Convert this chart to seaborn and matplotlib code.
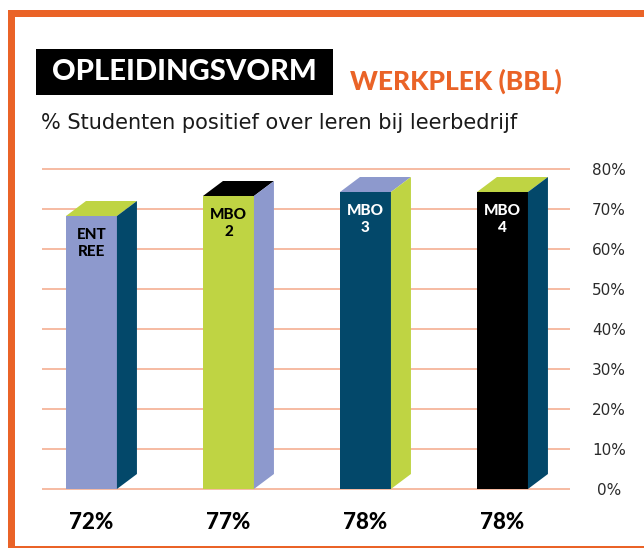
import matplotlib
matplotlib.use("Agg")
import matplotlib.pyplot as plt
from matplotlib.patches import Polygon, Rectangle
import pandas as pd
import seaborn as sns

# --- data -----------------------------------------------------------------
categories = ["ENT\nREE", "MBO\n2", "MBO\n3", "MBO\n4"]
values = [72, 77, 78, 78]
value_labels = ["72%", "77%", "78%", "78%"]
tick_values = [0, 10, 20, 30, 40, 50, 60, 70, 80]
tick_labels = ["0%", "10%", "20%", "30%", "40%", "50%", "60%", "70%", "80%"]

title_text = "OPLEIDINGSVORM"
subtitle_text = "WERKPLEK (BBL)"
caption_text = "% Studenten positief over leren bij leerbedrijf"

# --- colours --------------------------------------------------------------
LAVENDER = "#8D99CD"
TEAL = "#03486A"
LIME = "#BFD443"
BLACK = "#000000"
ORANGE = "#EA6327"
GRID = "#F6B59B"

front_colors = [LAVENDER, LIME, TEAL, BLACK]
top_colors = [LIME, BLACK, LAVENDER, LIME]
side_colors = [TEAL, LAVENDER, LIME, TEAL]
label_colors = ["black", "black", "white", "white"]

sns.set_theme(style="white")
plt.rcParams["font.family"] = ["Lato", "DejaVu Sans"]

W, H = 644, 548
fig = plt.figure(figsize=(W / 100, H / 100), dpi=100)
fig.patch.set_facecolor("white")


def fx(px):
    return px / W


def fy(py):
    return 1 - py / H


# plot area: 4 px per percentage point, 0% at y=489 and 80% at y=169
ax = fig.add_axes([fx(42), fy(493), fx(570) - fx(42), fy(165) - fy(493)])

df = pd.DataFrame({"groep": categories, "pct": values})
sns.barplot(data=df, x="groep", y="pct", hue="groep", palette=front_colors,
            width=0.372, saturation=1, legend=False, ax=ax, zorder=3)

DX = 0.146   # depth of the 3D box, horizontal (category units)
DY = 3.75    # depth of the 3D box, vertical (percentage points)

for i, p in enumerate(ax.patches[:len(values)]):
    x0, w, h = p.get_x(), p.get_width(), p.get_height()
    fh = h - DY
    p.set_height(fh)
    p.set_edgecolor("none")
    top = Polygon([(x0, fh), (x0 + w, fh), (x0 + w + DX, h), (x0 + DX, h)],
                  closed=True, facecolor=top_colors[i], edgecolor="none",
                  zorder=3, clip_on=False)
    side = Polygon([(x0 + w, 0), (x0 + w + DX, DY), (x0 + w + DX, h), (x0 + w, fh)],
                   closed=True, facecolor=side_colors[i], edgecolor="none",
                   zorder=3, clip_on=False)
    ax.add_patch(top)
    ax.add_patch(side)
    ax.text(x0 + w / 2, fh - 3.0, categories[i], ha="center", va="top",
            color=label_colors[i], fontsize=11, fontweight="black",
            linespacing=1.3, zorder=4)
    ax.text(x0 + w / 2, -8.3, value_labels[i], ha="center", va="center",
            color="black", fontsize=16, fontweight="black", clip_on=False)

ax.set_xlim(-0.361, 3.493)
ax.set_ylim(-1, 81)
ax.set_yticks(tick_values)
ax.set_yticklabels(tick_labels)
ax.yaxis.tick_right()
ax.tick_params(axis="y", length=0, pad=28, labelsize=11, labelcolor="#2b2b2b")
for lbl in ax.get_yticklabels():
    lbl.set_horizontalalignment("center")
    lbl.set_family("DejaVu Sans")
ax.tick_params(axis="x", length=0, labelbottom=False)
ax.set_xlabel("")
ax.set_ylabel("")
ax.grid(axis="y", color=GRID, linewidth=1.3)
ax.grid(axis="x", visible=False)
ax.set_axisbelow(True)
for s in ax.spines.values():
    s.set_visible(False)
ax.patch.set_alpha(0)

# --- frame ----------------------------------------------------------------
fig.patches.append(Rectangle((fx(8), fy(17)), 1 - fx(8), fy(10) - fy(17),
                             transform=fig.transFigure, facecolor=ORANGE,
                             edgecolor="none"))
fig.patches.append(Rectangle((fx(8), 0), fx(15) - fx(8), fy(10),
                             transform=fig.transFigure, facecolor=ORANGE,
                             edgecolor="none"))
fig.patches.append(Rectangle((fx(8), fy(548)), 1 - fx(8), fy(546) - fy(548),
                             transform=fig.transFigure, facecolor=ORANGE,
                             edgecolor="none"))

# --- headings ---------------------------------------------------------------
fig.patches.append(Rectangle((fx(36), fy(95)), fx(333) - fx(36), fy(49) - fy(95),
                             transform=fig.transFigure, facecolor="black",
                             edgecolor="none"))
fig.text(fx(184.5), fy(72.5), title_text, ha="center", va="center",
         color="white", fontsize=21, fontweight="black")
fig.text(fx(350), fy(81), subtitle_text, ha="left", va="center",
         color=ORANGE, fontsize=19, fontweight="black")
fig.text(fx(41), fy(129), caption_text, ha="left", va="baseline",
         color="#1a1a1a", fontsize=15, family="DejaVu Sans")

fig.savefig("out.png", dpi=100, facecolor="white")
